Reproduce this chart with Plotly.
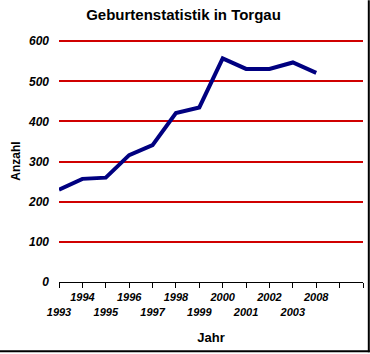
import plotly.graph_objects as go

years = ["1993", "1994", "1995", "1996", "1997", "1998", "1999", "2000",
         "2001", "2002", "2003", "2008"]
births = [230, 257, 260, 316, 341, 421, 435, 557, 531, 531, 547, 521]
y_ticks = [0, 100, 200, 300, 400, 500, 600]

W, H = 370, 354
Y_TOP = 603
L, R, B = 59, 7.3, 71.5
T = (H - B) - (H - B - 41) * Y_TOP / 600
PW, PH = W - L - R, H - T - B

idx = list(range(len(years)))
n_slots = len(years) + 2
tickvals = list(range(n_slots))
ticktext = []
for i in tickvals:
    if i < len(years):
        ticktext.append(years[i] if i % 2 == 1 else "<br>" + years[i])
    else:
        ticktext.append("")

fig = go.Figure()
fig.add_trace(go.Scatter(
    x=idx, y=births, mode="lines",
    line=dict(color="#000080", width=4),
    hoverinfo="skip", showlegend=False,
))

font = "Liberation Sans, Arial, sans-serif"

def px_to_paper_x(px):
    return (px - L) / PW

def px_to_paper_y(py):
    return (H - B - py) / PH

fig.update_layout(
    template="none",
    width=W, height=H,
    margin=dict(l=L, r=R, t=T, b=B),
    paper_bgcolor="white", plot_bgcolor="white",
    font=dict(family=font, color="black"),
    title=dict(text="<b>Geburtenstatistik in Torgau</b>", x=183.5 / W, xanchor="center",
               y=1 - 15 / H, yanchor="middle", font=dict(size=15, family=font)),
    xaxis=dict(
        range=[0, n_slots - 1], tickmode="array", tickvals=tickvals, ticktext=ticktext,
        showgrid=False, zeroline=False, showline=True, linecolor="black", linewidth=1,
        ticks="outside", ticklen=5, tickcolor="black", tickwidth=1,
        tickfont=dict(size=11, family=font, style="italic", weight="bold"),
        tickangle=0,
        title=dict(text="<b>Jahr</b>", font=dict(size=13, family=font), standoff=16),
    ),
    yaxis=dict(
        range=[0, Y_TOP], tickmode="array", tickvals=y_ticks,
        showgrid=True, gridcolor="#d00000", gridwidth=1.5,
        zeroline=False, showline=False, ticks="", ticklabelstandoff=9,
        tickfont=dict(size=12, family=font, style="italic", weight="bold"),
        title=dict(text="<b>Anzahl</b>", font=dict(size=12, family=font), standoff=4),
    ),
)

# chart frame (right and bottom edges)
fig.add_shape(type="line", xref="paper", yref="paper",
              x0=px_to_paper_x(368.5), x1=px_to_paper_x(368.5),
              y0=px_to_paper_y(0), y1=px_to_paper_y(353),
              line=dict(color="black", width=2))
fig.add_shape(type="line", xref="paper", yref="paper",
              x0=px_to_paper_x(0), x1=px_to_paper_x(369.5),
              y0=px_to_paper_y(352), y1=px_to_paper_y(352),
              line=dict(color="black", width=2))

fig.write_html("out.html")
